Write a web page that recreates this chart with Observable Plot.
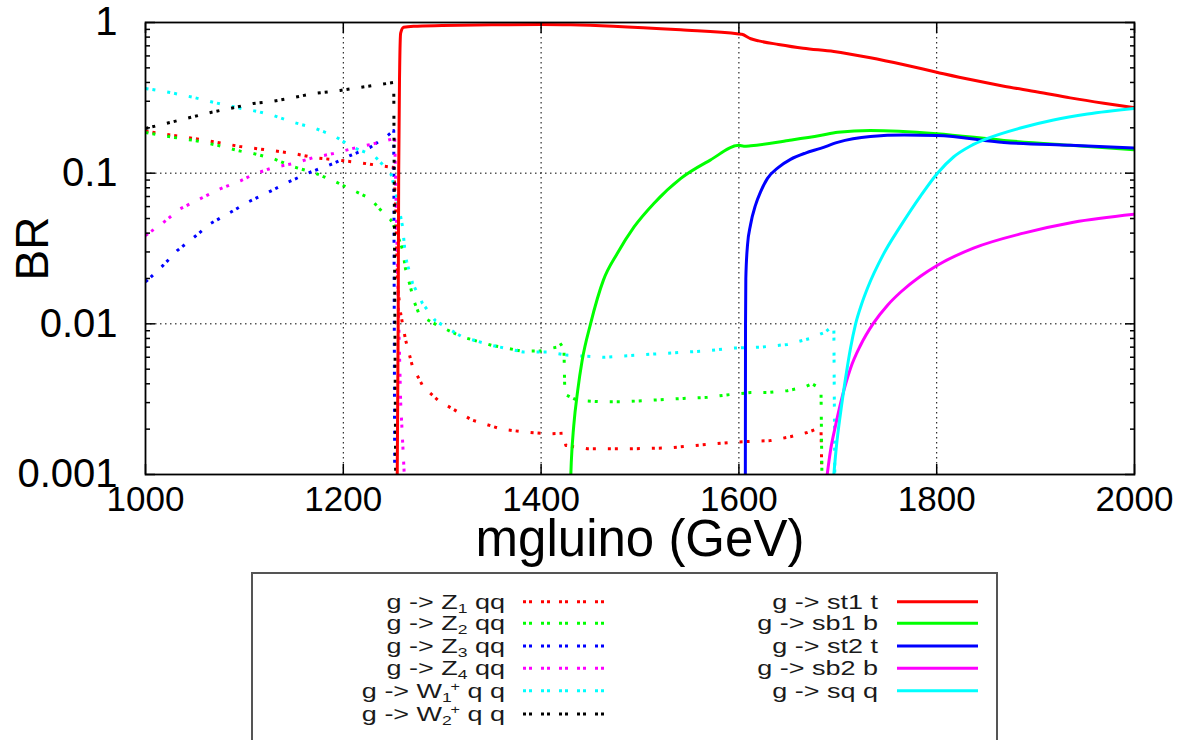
<!DOCTYPE html>
<html><head><meta charset="utf-8">
<script src="https://cdn.jsdelivr.net/npm/d3@7"></script>
<script src="https://cdn.jsdelivr.net/npm/@observablehq/plot@0.6"></script>
<style>
html,body{margin:0;padding:0;background:#fff;}
#chart svg{display:block;}
</style></head><body><div id="chart"></div>
<script>
// ---- axis ticks ----
const xTicks = [1000, 1200, 1400, 1600, 1800, 2000];
const xGrid = [1200, 1400, 1600, 1800];
const yTicks = [1, 0.1, 0.01, 0.001];
const yTickLabels = ["1", "0.1", "0.01", "0.001"];
const yGrid = [0.1, 0.01];
const yMinor = [0.002,0.003,0.004,0.005,0.006,0.007,0.008,0.009,
                0.02,0.03,0.04,0.05,0.06,0.07,0.08,0.09,
                0.2,0.3,0.4,0.5,0.6,0.7,0.8,0.9];

// ---- series: [mgluino, BR] ----
const z1qq = [[1000,0.19],[1028,0.178],[1049,0.17],[1073,0.16],[1096,0.15],[1129,0.141],[1150,0.135],[1170,0.127],[1190,0.123],[1214,0.118],[1238,0.112],[1251,0.109],[1253,0.06],[1255,0.0175],[1258,0.0117],[1263,0.0078],[1270,0.0052],[1281,0.0038],[1296,0.0031],[1330,0.0023],[1360,0.002],[1382,0.00192],[1406,0.00186],[1423,0.00188],[1425,0.00156],[1447,0.00148],[1490,0.00148],[1528,0.0015],[1571,0.00159],[1595,0.00164],[1632,0.00168],[1652,0.00178],[1669,0.0019],[1683,0.00205],[1684,0.0009]];
const z2qq = [[1000,0.186],[1028,0.173],[1049,0.165],[1073,0.153],[1096,0.14],[1109,0.135],[1129,0.125],[1150,0.11],[1170,0.101],[1190,0.089],[1210,0.077],[1227,0.068],[1241,0.054],[1248,0.049],[1253,0.042],[1260,0.031],[1263,0.023],[1268,0.0175],[1271,0.0144],[1276,0.0119],[1281,0.011],[1295,0.0098],[1320,0.0082],[1350,0.0072],[1380,0.0066],[1399,0.0066],[1406,0.0068],[1416,0.007],[1423,0.0075],[1424,0.0034],[1437,0.0031],[1460,0.00304],[1483,0.00304],[1507,0.0031],[1544,0.0032],[1568,0.00325],[1592,0.0034],[1612,0.0035],[1629,0.0035],[1649,0.0036],[1666,0.0038],[1674,0.004],[1683,0.0037],[1684,0.0009]];
const z3qq = [[1000,0.019],[1005,0.0203],[1018,0.0245],[1032,0.0306],[1049,0.0375],[1066,0.0464],[1086,0.055],[1103,0.064],[1123,0.074],[1144,0.087],[1164,0.1],[1190,0.116],[1207,0.131],[1227,0.148],[1245,0.178],[1251,0.192],[1252,0.0009]];
const z4qq = [[1000,0.0386],[1018,0.047],[1035,0.058],[1056,0.068],[1076,0.079],[1096,0.089],[1109,0.098],[1129,0.109],[1150,0.116],[1170,0.127],[1190,0.135],[1210,0.146],[1231,0.157],[1252,0.17],[1255,0.02],[1258,0.003],[1262,0.0009]];
const w1qq = [[1000,0.365],[1025,0.343],[1049,0.318],[1069,0.295],[1093,0.272],[1113,0.257],[1129,0.242],[1150,0.217],[1170,0.2],[1190,0.178],[1210,0.148],[1231,0.131],[1248,0.1],[1253,0.075],[1256,0.06],[1260,0.044],[1262,0.032],[1264,0.026],[1270,0.0186],[1280,0.0137],[1293,0.0105],[1320,0.0082],[1350,0.0072],[1382,0.0065],[1406,0.0065],[1426,0.0062],[1463,0.006],[1514,0.0063],[1564,0.0066],[1595,0.0069],[1622,0.007],[1649,0.0073],[1672,0.008],[1687,0.0088],[1696,0.0098],[1697,0.0009]];
const w2qq = [[1000,0.198],[1025,0.217],[1045,0.234],[1066,0.253],[1089,0.272],[1109,0.29],[1129,0.30],[1150,0.318],[1170,0.338],[1197,0.354],[1210,0.365],[1231,0.382],[1251,0.4],[1253,0.0009]];
const st1t = [[1254.5,0.0009],[1255.5,0.01],[1256,0.1],[1257,0.5],[1258,0.85],[1261,0.93],[1271,0.945],[1300,0.955],[1350,0.965],[1400,0.97],[1430,0.965],[1473,0.945],[1541,0.894],[1600,0.84],[1603,0.835],[1612,0.78],[1620,0.755],[1640,0.715],[1665,0.675],[1696,0.642],[1733,0.583],[1767,0.524],[1800,0.468],[1834,0.418],[1868,0.378],[1902,0.346],[1935,0.316],[1969,0.291],[2000,0.272]];
const sb1b = [[1429.8,0.0009],[1430.5,0.0012],[1433,0.0021],[1437,0.0036],[1441.5,0.0057],[1450,0.01],[1463,0.0195],[1477,0.0293],[1494,0.044],[1514,0.063],[1541,0.092],[1571,0.122],[1600,0.153],[1605,0.151],[1612,0.152],[1650,0.165],[1682,0.178],[1700,0.187],[1733,0.192],[1800,0.183],[1868,0.165],[1935,0.153],[2000,0.143]];
const st2t = [[1606.5,0.0009],[1606.7,0.01],[1607,0.02],[1608.7,0.0333],[1611.7,0.0452],[1616.8,0.0614],[1621.8,0.0749],[1628.9,0.0923],[1640,0.1093],[1652.2,0.1235],[1667.3,0.136],[1682.5,0.146],[1699.7,0.16],[1733,0.175],[1767,0.179],[1800,0.178],[1868,0.16],[1935,0.153],[2000,0.147]];
const sb2b = [[1688.4,0.0009],[1692.6,0.00144],[1697.7,0.00211],[1704.8,0.00335],[1712.8,0.00506],[1723,0.00721],[1736.1,0.0101],[1750.3,0.0133],[1763.4,0.0162],[1783.6,0.0207],[1800.8,0.0245],[1837.2,0.0318],[1887.8,0.04],[1938.3,0.0473],[2000,0.0535]];
const sqq = [[1695.4,0.0009],[1698.7,0.00156],[1702.7,0.00254],[1707.8,0.00434],[1712.8,0.00687],[1717.9,0.00993],[1724,0.01348],[1730,0.01722],[1746.2,0.029],[1763.4,0.0445],[1783.6,0.0705],[1800.8,0.1],[1817,0.128],[1834.2,0.1514],[1851.4,0.17],[1884.7,0.1995],[1918.1,0.2255],[1952.5,0.247],[2000,0.2689]];

// ---- legend labels / colours ----
const dottedLabels = ["g -> Z_1 qq", "g -> Z_2 qq", "g -> Z_3 qq", "g -> Z_4 qq", "g -> W_1^+ q q", "g -> W_2^+ q q"];
const dottedColors = ["#ff0000", "#00ff00", "#0000ff", "#ff00ff", "#00ffff", "#000000"];
const dottedData = [z1qq, z2qq, z3qq, z4qq, w1qq, w2qq];
const solidLabels = ["g -> st1 t", "g -> sb1 b", "g -> st2 t", "g -> sb2 b", "g -> sq q"];
const solidColors = ["#ff0000", "#00ff00", "#0000ff", "#ff00ff", "#00ffff"];
const solidData = [st1t, sb1b, st2t, sb2b, sqq];

const FONT = "'Liberation Sans', Arial, Helvetica, sans-serif";
const DOT = "3,4,3,12";

const lineMarks = [];
dottedData.forEach((d, i) => lineMarks.push(Plot.line(d, {x: p => p[0], y: p => p[1], stroke: dottedColors[i], strokeWidth: 3, strokeDasharray: DOT, strokeLinecap: "butt", clip: true})));
solidData.forEach((d, i) => lineMarks.push(Plot.line(d, {x: p => p[0], y: p => p[1], stroke: solidColors[i], strokeWidth: 3, curve: "monotone-x", clip: true})));

const chart = Plot.plot({
  width: 1187, height: 572,
  marginLeft: 145, marginRight: 53, marginTop: 22, marginBottom: 98,
  style: {fontFamily: FONT, color: "black", background: "white"},
  x: {type: "linear", domain: [1000, 2000]},
  y: {type: "log", domain: [0.001, 1]},
  marks: [
    Plot.gridX(xGrid, {stroke: "black", strokeOpacity: 1, strokeWidth: 1, strokeDasharray: "1.5,3.5"}),
    Plot.gridY(yGrid, {stroke: "black", strokeOpacity: 1, strokeWidth: 1, strokeDasharray: "1.5,3.5"}),
    ...lineMarks,
    Plot.frame({stroke: "black", strokeWidth: 1.8}),
    Plot.axisX(xTicks, {anchor: "bottom", tickSize: 10, dy: -10, fill: "none", label: null, strokeWidth: 1.5}),
    Plot.axisX(xTicks, {anchor: "top", tickSize: 10, dy: 10, fill: "none", label: null, strokeWidth: 1.5}),
    Plot.axisX(xTicks, {anchor: "bottom", tickSize: 0, tickPadding: 12, tickFormat: d => String(d), fontSize: 35, label: null}),
    Plot.axisY(yTicks, {anchor: "left", tickSize: 10, dx: 10, fill: "none", label: null, strokeWidth: 1.5}),
    Plot.axisY(yTicks, {anchor: "right", tickSize: 10, dx: -10, fill: "none", label: null, strokeWidth: 1.5}),
    Plot.axisY(yMinor, {anchor: "left", tickSize: 5, dx: 5, fill: "none", label: null, strokeWidth: 1.5}),
    Plot.axisY(yMinor, {anchor: "right", tickSize: 5, dx: -5, fill: "none", label: null, strokeWidth: 1.5}),
    Plot.axisY(yTicks, {anchor: "left", tickSize: 0, tickPadding: 28, tickFormat: d => yTickLabels[yTicks.indexOf(d)], fontSize: 40, label: null}),
    Plot.text(["mgluino (GeV)"], {frameAnchor: "bottom", dy: 81, fontSize: 51, textAnchor: "middle", text: d => d}),
    Plot.text(["BR"], {frameAnchor: "left", dx: -112, rotate: -90, fontSize: 46, textAnchor: "middle", text: d => d})
  ]
});
document.getElementById("chart").appendChild(chart);

// ---- legend (below the plot SVG) ----
const LW = 1187, LH = 168;
const leg = d3.create("svg").attr("width", LW).attr("height", LH).style("display", "block")
  .attr("font-family", FONT);
leg.append("rect").attr("x", 252).attr("y", 1).attr("width", 745).attr("height", 400)
  .attr("fill", "none").attr("stroke", "#555").attr("stroke-width", 2);
const rowY = [29.7, 51.3, 74, 96.3, 118.7, 142];

function addLabel(g, label, xRight, y) {
  const t = g.append("text")
    .attr("transform", `translate(${xRight},${y + 7}) scale(1.35,1)`)
    .attr("text-anchor", "end").attr("font-size", 20).attr("fill", "#1a1a1a");
  const m = label.match(/^(.*?)_(\d)(\^\+)?(.*)$/);
  if (!m) { t.text(label); return; }
  t.append("tspan").text(m[1]);
  t.append("tspan").attr("font-size", 13).attr("dy", 4).text(m[2]);
  let back = -4;
  if (m[3]) {
    t.append("tspan").attr("font-size", 12).attr("dy", -11).attr("dx", -1).text("+");
    back = 7;
  }
  t.append("tspan").attr("dy", back).text(m[4]);
}

dottedLabels.forEach((lab, i) => {
  addLabel(leg, lab, 505, rowY[i]);
  leg.append("line").attr("x1", 523).attr("x2", 607).attr("y1", rowY[i]).attr("y2", rowY[i])
    .attr("stroke", dottedColors[i]).attr("stroke-width", 3).attr("stroke-dasharray", "3,3,3,9");
});
solidLabels.forEach((lab, i) => {
  addLabel(leg, lab, 878, rowY[i]);
  leg.append("line").attr("x1", 897).attr("x2", 978).attr("y1", rowY[i]).attr("y2", rowY[i])
    .attr("stroke", solidColors[i]).attr("stroke-width", 3);
});
document.getElementById("chart").appendChild(leg.node());
</script>
</body></html>
